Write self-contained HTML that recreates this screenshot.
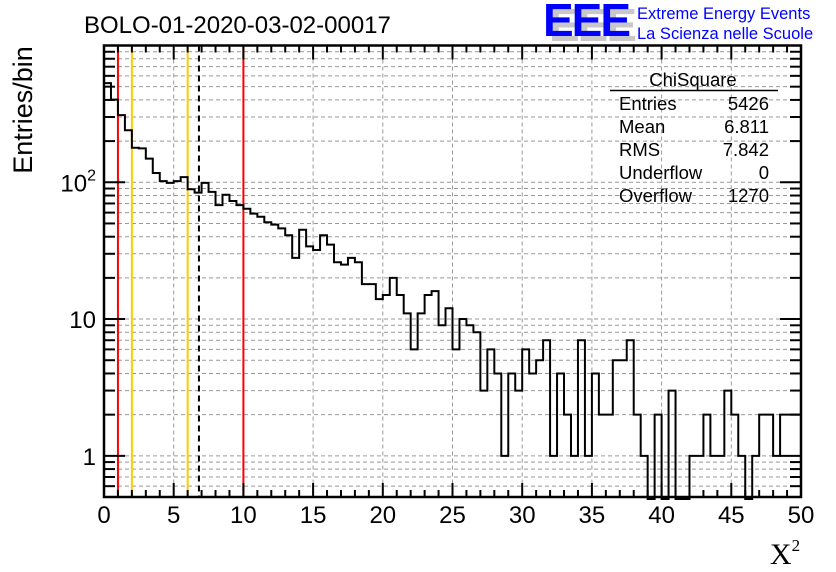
<!DOCTYPE html>
<html><head><meta charset="utf-8"><style>
html,body{margin:0;padding:0;background:#fff;}
svg{display:block;font-family:"Liberation Sans",sans-serif;}
</style></head><body>
<svg id="chart" width="836" height="572" viewBox="0 0 836 572" xmlns="http://www.w3.org/2000/svg">
<rect x="0" y="0" width="836" height="572" fill="#fff"/>
<g id="grid"></g>
<g id="marks"></g>
<g id="axes"></g>
<text x="84" y="33" font-size="24" fill="#000">BOLO-01-2020-03-02-00017</text>
<text transform="translate(32,110) rotate(-90)" text-anchor="middle" font-size="27" fill="#000">Entries/bin</text>
<text x="785" y="564" text-anchor="middle" font-family="Liberation Serif,serif" font-size="30" fill="#000">X<tspan font-size="17" dy="-13">2</tspan></text>
<g>
<text x="549" y="41" font-size="46" font-weight="bold" fill="#c8c8c8" letter-spacing="-2">EEE</text>
<text x="543" y="36" font-size="46" font-weight="bold" fill="#0000ff" letter-spacing="-2">EEE</text>
<text x="637" y="19" font-size="16.5" fill="#0000ff">Extreme Energy Events</text>
<text x="637" y="39" font-size="16.5" fill="#0000ff">La Scienza nelle Scuole</text>
</g>
<g font-size="18.5" fill="#000">
<text x="693" y="86" text-anchor="middle">ChiSquare</text>
<line x1="610" y1="90.5" x2="778" y2="90.5" stroke="#000" stroke-width="1.5"/>
<text x="619" y="110">Entries</text><text x="769" y="110" text-anchor="end">5426</text>
<text x="619" y="133">Mean</text><text x="769" y="133" text-anchor="end">6.811</text>
<text x="619" y="156">RMS</text><text x="769" y="156" text-anchor="end">7.842</text>
<text x="619" y="179">Underflow</text><text x="769" y="179" text-anchor="end">0</text>
<text x="619" y="202">Overflow</text><text x="769" y="202" text-anchor="end">1270</text>
</g>
</svg>
<script>
const binCounts = [531,402,310,240,179,177,149,117,102,99,102,109,89,84,99,85,68,81,73,68,64,59,56,51,49,46,41,28,45,34,32,41,35,26,25,28,26,18,18,14,15,20,15,11,6,11,15,16,9,12,6,10,9,8,3,6,4,1,4,3,6,4,5,7,1,4,2,1,7,1,4,2,2,5,5,7,2,1,0,2,0,3,0,0,1,1,2,1,1,3,2,1,0,1,2,2,1,2,2,2];
const binWidth = 0.5;
const cutLines = [{x:1,c:"#ff0000"},{x:2,c:"#ffcc00"},{x:6,c:"#ffcc00"},{x:10,c:"#ff0000"}];
const meanValue = 6.811;
const xTicks = [0,5,10,15,20,25,30,35,40,45,50];
const yMajor = [1,10,100];
const yMajorLabels = ["1","10","10²"];

const L=104,R=801,T=45.5,B=497;
const xMin=0,xMax=50,yMin=0.5,yMax=1000;
const X=v=>L+(v-xMin)/(xMax-xMin)*(R-L);
const Y=v=>B-(Math.log10(v)-Math.log10(yMin))/(Math.log10(yMax)-Math.log10(yMin))*(B-T);
const NS="http://www.w3.org/2000/svg";
function mk(tag,attrs,parent){const e=document.createElementNS(NS,tag);for(const k in attrs)e.setAttribute(k,attrs[k]);parent.appendChild(e);return e;}
const grid=document.getElementById('grid'),marks=document.getElementById('marks'),axes=document.getElementById('axes');

for(const t of xTicks){ if(t===xMin||t===xMax) continue;
  const g=mk('line',{x1:X(t),x2:X(t),y1:T,y2:B,stroke:"#999",'stroke-width':1,'stroke-dasharray':"4,3"},grid);
  
  
}
for(let d=-1;d<=2;d++){for(let m=1;m<=9;m++){const v=m*Math.pow(10,d); if(v<=yMin||v>=yMax) continue;
  const g=mk('line',{x1:L,x2:R,y1:Y(v),y2:Y(v),stroke:"#999",'stroke-width':1,'stroke-dasharray':"4,3"},grid);
  
  
}}

for(const c of cutLines){
  const l=mk('line',{x1:X(c.x),x2:X(c.x),y1:T,y2:B,stroke:c.c,'stroke-width':2},marks);
  
  
}
const ml=mk('line',{x1:X(meanValue),x2:X(meanValue),y1:T,y2:B,stroke:"#000",'stroke-width':2,'stroke-dasharray':"6,4"},marks);



let d="";const floor=B+2;
binCounts.forEach((v,i)=>{const x0=X(i*binWidth),x1=X((i+1)*binWidth);
  const y=v>0?Math.max(Y(v),T):floor;
  d+=(i===0?"M"+x0+","+y:"L"+x0+","+y)+"L"+x1+","+y;});
const h=mk('path',{d:d,fill:"none",stroke:"#000",'stroke-width':2},marks);



const fr=mk('rect',{x:L,y:T,width:R-L,height:B-T,fill:"none",stroke:"#000",'stroke-width':2.5},axes);


for(let t=xMin;t<=xMax;t+=1){const maj=t%5===0;const len=maj?14:7;
  const a=mk('line',{x1:X(t),x2:X(t),y1:B,y2:B-len,stroke:"#000",'stroke-width':2},axes);
  
  
  const b=mk('line',{x1:X(t),x2:X(t),y1:T,y2:T+len,stroke:"#000",'stroke-width':2},axes);
  
  
}
xTicks.forEach(t=>{const tx=mk('text',{x:X(t),y:523,'text-anchor':'middle','font-size':24,fill:"#000"},axes);tx.textContent=String(t);
  
  });
for(let dd=-1;dd<=2;dd++){for(let m=1;m<=9;m++){const v=m*Math.pow(10,dd); if(v<yMin||v>yMax) continue;
  const len=m===1?21:11;
  const a=mk('line',{x1:L,x2:L+len,y1:Y(v),y2:Y(v),stroke:"#000",'stroke-width':2},axes);
  
  
  const b=mk('line',{x1:R,x2:R-len,y1:Y(v),y2:Y(v),stroke:"#000",'stroke-width':2},axes);
  
  
}}
yMajor.forEach((v,i)=>{const lab=yMajorLabels[i];
  const tx=mk('text',{x:96,y:Y(v)+9,'text-anchor':'end','font-size':24,fill:"#000"},axes);
  
  
  if(lab.endsWith('²')){tx.textContent=lab.slice(0,-1);const s=mk('tspan',{'font-size':16,dy:-11},tx);s.textContent="2";}
  else tx.textContent=lab;});
</script>
</body></html>
